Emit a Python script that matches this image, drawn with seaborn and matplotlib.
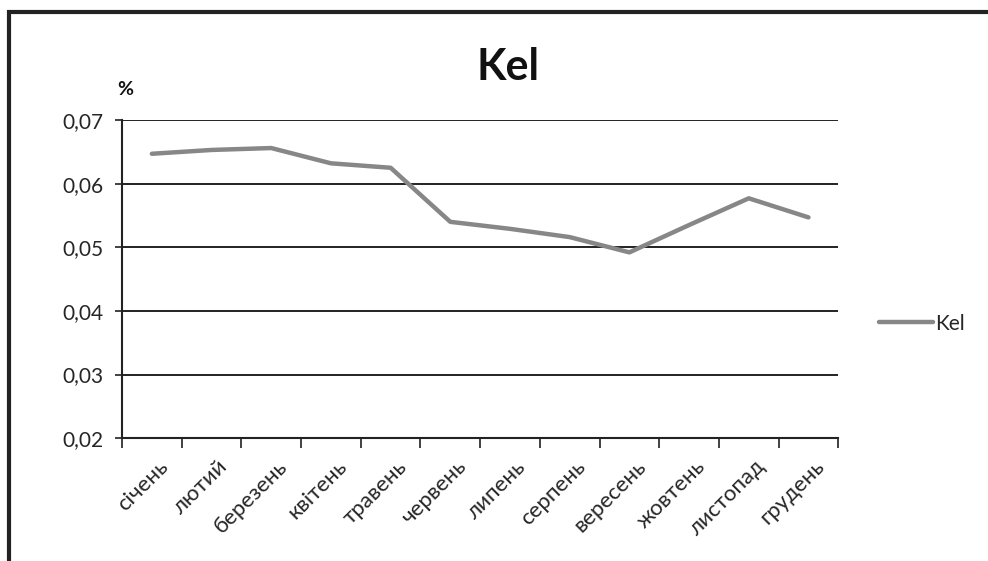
import matplotlib
matplotlib.use('Agg')
import matplotlib.pyplot as plt
import matplotlib.ticker as mticker
import seaborn as sns
import numpy as np
import pandas as pd

# Дані
months = ['січень', 'лютий', 'березень', 'квітень', 'травень', 'червень',
          'липень', 'серпень', 'вересень', 'жовтень', 'листопад', 'грудень']
kel = [0.0647, 0.0653, 0.0656, 0.0632, 0.0625, 0.0540,
       0.0529, 0.0516, 0.0492, 0.0535, 0.0577, 0.0547]
series_name = 'Kel'

df = pd.DataFrame({'month': months, 'value': kel})
df['pos'] = np.arange(len(months))

sns.set_theme(style='white')
plt.rcParams['font.family'] = ['Lato', 'DejaVu Sans']

fig = plt.figure(figsize=(9.88, 5.61), dpi=100)
ax = fig.add_axes([0.1235, 0.219, 0.725, 0.567])

# рамка навколо діаграми
frame = plt.Rectangle((0.009, -0.05), 1.1, 1.028, transform=fig.transFigure,
                      fill=False, edgecolor='#222222', linewidth=3)
fig.patches.append(frame)

sns.lineplot(data=df, x='pos', y='value', ax=ax, color='#878787',
             linewidth=3.2, label=series_name, legend=False)

ax.set_xlim(-0.5, len(months) - 0.5)
ax.set_ylim(0.02, 0.07)
ax.yaxis.set_major_locator(mticker.MultipleLocator(0.01))
ax.yaxis.set_major_formatter(mticker.FuncFormatter(
    lambda v, p: f'{v:.2f}'.replace('.', ',')))

ax.set_xticks(np.arange(len(months)))
ax.set_xticklabels(months, rotation=45, ha='right', va='top',
                   rotation_mode='anchor', fontsize=16)
ax.set_xticks(np.arange(-0.5, len(months)), minor=True)
ax.tick_params(axis='x', which='major', length=0, pad=13)
ax.tick_params(axis='x', which='minor', length=7, width=1.3, color='#333333',
               direction='out', bottom=True)
ax.tick_params(axis='y', length=5, width=1.3, color='#333333',
               direction='out', left=True, labelsize=15, pad=8)
for lbl in ax.get_xticklabels():
    lbl.set_transform(lbl.get_transform() +
                      matplotlib.transforms.ScaledTranslation(0.06, 0, fig.dpi_scale_trans))

ax.grid(axis='y', color='#111111', linewidth=1.3)
ax.grid(axis='x', visible=False)
ax.set_axisbelow(True)
for s in ['top', 'right']:
    ax.spines[s].set_visible(False)
for s in ['left', 'bottom']:
    ax.spines[s].set_color('#222222')
    ax.spines[s].set_linewidth(1.5)

ax.set_xlabel('')
ax.set_ylabel('')

fig.text(0.514, 0.88, 'Kel', ha='center', va='center',
         fontsize=31, fontweight='bold', color='#111111')
fig.text(0.127, 0.84, '%', ha='center', va='center',
         fontsize=14, fontweight='bold', color='#111111')

ax.legend(loc='center left', bbox_to_anchor=(1.03, 0.36), frameon=False,
          fontsize=15, handlelength=2.6, handletextpad=0.1)

fig.savefig('out.png', dpi=100, facecolor='white')
